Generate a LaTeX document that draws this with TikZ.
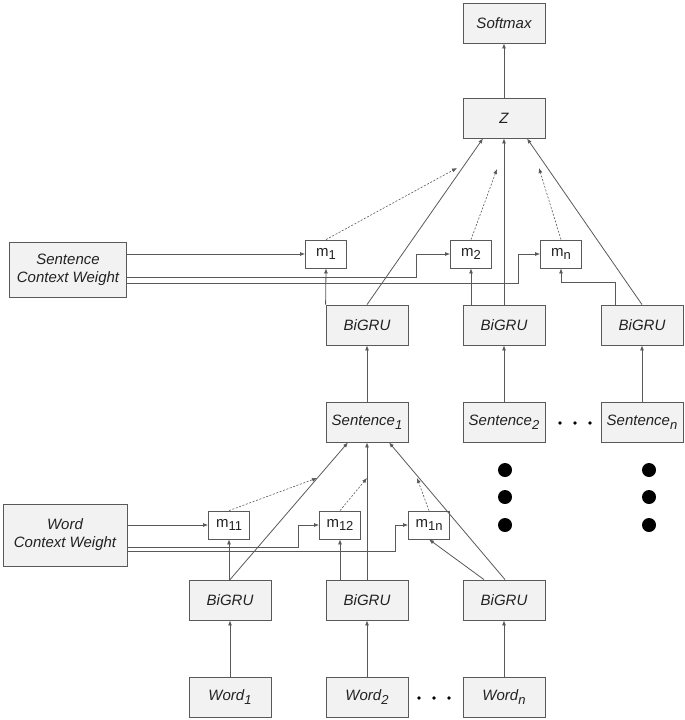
\documentclass[tikz,border=0pt]{standalone}
\usepackage{fontspec}
\setmainfont{Liberation Sans}
\usetikzlibrary{arrows.meta}
\definecolor{boxfill}{HTML}{F2F2F2}
\definecolor{linegray}{HTML}{595959}
\definecolor{txtgray}{HTML}{222222}
\newcommand\lsub[1]{\raisebox{-0.45ex}{\fontsize{13}{13}\selectfont #1}}
\begin{document}
\begin{tikzpicture}[x=1pt, y=-1pt,
	every node/.style={text=txtgray, font=\fontsize{15}{18}\selectfont},
	block/.style={draw=linegray, fill=boxfill, line width=0.8pt, minimum width=82pt, minimum height=40pt, inner sep=0pt, font=\itshape\fontsize{15}{18}\selectfont},
	weight/.style={block, align=center},
	mbox/.style={draw=linegray, fill=white, line width=0.8pt, minimum width=41pt, minimum height=28pt, inner sep=0pt},
	conn/.style={draw=linegray, line width=0.8pt, -{Latex[length=5pt,width=4pt]}},
	dots/.style={conn, dash pattern=on 2pt off 1.6pt, line width=0.6pt}]
				\useasboundingbox (0,0) rectangle (685,720);
				% sentence level
				\node[block] (softmax) at (504,23) {Softmax};
				\node[block] (z) at (504,118) {Z};
				\node[mbox] (sm1) at (326,254) {m\lsub{1}};
				\node[mbox] (sm2) at (471,254) {m\lsub{2}};
				\node[mbox] (smn) at (561,254) {m\lsub{n}};
				\node[weight, minimum width=117pt, minimum height=55pt] (scw) at (68,270) {Sentence\\Context Weight};
				\node[block] (sb1) at (367,325) {BiGRU};
				\node[block] (sb2) at (504,325) {BiGRU};
				\node[block] (sb3) at (642,325) {BiGRU};
				\node[block] (sen1) at (367,422) {Sentence\lsub{\itshape 1}};
				\node[block] (sen2) at (504,422) {Sentence\lsub{\itshape 2}};
				\node[block] (senn) at (642,422) {Sentence\lsub{\itshape n}};
				% word level
				\node[mbox] (wm1) at (229,525) {m\lsub{11}};
				\node[mbox] (wm2) at (340,525) {m\lsub{12}};
				\node[mbox] (wmn) at (429,525) {m\lsub{1n}};
				\node[weight, minimum width=124pt, minimum height=62pt] (wcw) at (65,535) {Word\\Context Weight};
				\node[block] (wb1) at (230,600) {BiGRU};
				\node[block] (wb2) at (367,600) {BiGRU};
				\node[block] (wb3) at (504,600) {BiGRU};
				\node[block] (w1) at (230,697) {Word\lsub{\itshape 1}};
				\node[block] (w2) at (367,697) {Word\lsub{\itshape 2}};
				\node[block] (wn) at (504,697) {Word\lsub{\itshape n}};
				% ends of the dotted arrows
				\coordinate (za1) at (457,168);
				\coordinate (za2) at (497,169);
				\coordinate (zan) at (539,168);
				\coordinate (sa1) at (317,478);
				\coordinate (sa2) at (367,478);
				\coordinate (san) at (417,478);
				\draw[conn] (z) -- (softmax);
				\draw[conn] (sb1.north) -- ([xshift=-21pt]z.south);
				\draw[conn] (sb2) -- (z);
				\draw[conn] (sb3.north) -- ([xshift=23pt]z.south);
				\draw[conn] (sb1.north west) -- (sm1.south);
				\draw[conn] (sm2 |- sb2.north) -- (sm2.south);
				\draw[conn] ([xshift=-27pt]sb3.north) -- ++(0,-22) -| (smn.south);
				\draw[conn] (scw.east |- sm1) -- (sm1.west);
				\draw[conn] ([yshift=-7pt]scw.east) -| ([xshift=-34pt]sm2.west) -- (sm2.west);
				\draw[conn] ([yshift=-13pt]scw.east) -| ([xshift=-22pt]smn.west) -- (smn.west);
				\draw[dots] (sm1.north) -- (za1);
				\draw[dots] (sm2.north) -- (za2);
				\draw[dots] (smn.north) -- (zan);
				\draw[conn] (sen1) -- (sb1);
				\draw[conn] (sen2) -- (sb2);
				\draw[conn] (senn) -- (sb3);
				\draw[conn] (wb1.north) -- ([xshift=-19pt]sen1.south);
				\draw[conn] (wb2) -- (sen1);
				\draw[conn] ([xshift=1pt]wb3.north) -- ([xshift=22pt]sen1.south);
				\draw[conn] (wm1 |- wb1.north) -- (wm1.south);
				\draw[conn] (wm2 |- wb2.north) -- (wm2.south);
				\draw[conn] ([xshift=-20pt]wb3.north) -- (wmn.south);
				\draw[conn] (wcw.east |- wm1) -- (wm1.west);
				\draw[conn] ([yshift=-12pt]wcw.east) -| ([xshift=-21pt]wm2.west) -- (wm2.west);
				\draw[conn] ([yshift=-16pt]wcw.east) -| ([xshift=-13pt]wmn.west) -- (wmn.west);
				\draw[dots] (wm1.north) -- (sa1);
				\draw[dots] (wm2.north) -- (sa2);
				\draw[dots] (wmn.north) -- (san);
				\draw[conn] (w1) -- (wb1);
				\draw[conn] (w2) -- (wb2);
				\draw[conn] (wn) -- (wb3);
				% dots
				\foreach \y in {470,497,525} {
					\fill (505,\y) circle (7pt);
					\fill (649,\y) circle (7pt);
				}
				\foreach \x in {560,575,590} \fill (\x,423) circle (1.8pt);
				\foreach \x in {419,434,449} \fill (\x,698) circle (1.8pt);
\end{tikzpicture}
\end{document}
